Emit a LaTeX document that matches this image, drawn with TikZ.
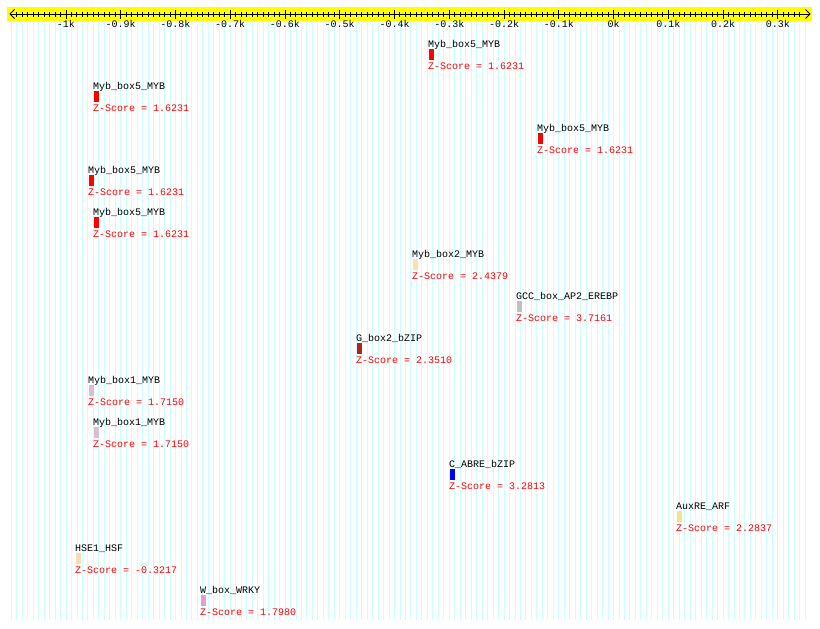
\documentclass[tikz,border=0pt]{standalone}
\usepackage{fontspec}
\setmonofont{Liberation Mono}
\definecolor{gridcyan}{RGB}{205,255,255}
\definecolor{axyellow}{RGB}{255,255,0}
\definecolor{cmyb}{RGB}{255,0,0}
\definecolor{cmoccasin}{RGB}{255,222,173}
\definecolor{csilver}{RGB}{192,192,192}
\definecolor{cbrown}{RGB}{178,34,34}
\definecolor{cthistle}{RGB}{216,191,216}
\definecolor{cblue}{RGB}{0,0,255}
\definecolor{ckhaki}{RGB}{240,230,140}
\definecolor{cwheat}{RGB}{245,222,179}
\definecolor{cplum}{RGB}{221,160,221}
\tikzset{
  gridline/.style={draw=gridcyan, line width=0.9pt},
  axisline/.style={draw=black, line width=1pt},
  axlabel/.style={font=\ttfamily\fontsize{10}{10}\selectfont, inner sep=0pt, anchor=base},
  namelabel/.style={font=\ttfamily\fontsize{10}{10}\selectfont, inner sep=0pt, anchor=base west, text=black},
  scorelabel/.style={font=\ttfamily\fontsize{10}{10}\selectfont, inner sep=0pt, anchor=base west, text=red},
}
\begin{document}
\begin{tikzpicture}[x=1pt,y=-1pt]
\useasboundingbox (0,0) rectangle (820,629);
\fill[white] (0,0) rectangle (820,629);
% vertical grid lines
\foreach \i in {0,...,145} {
  \draw[gridline] ({11.25+5.475*\i},21) -- ({11.25+5.475*\i},620);
}
% axis band
\fill[axyellow] (7,7) rectangle (812,21);
\coordinate (axL) at (10,14);
\coordinate (axR) at (810,14);
\draw[axisline] (axL) -- (axR);
\draw[axisline] (14.5,9.5) -- (axL) -- (14.5,18.5);
\draw[axisline] (805.5,9.5) -- (axR) -- (805.5,18.5);
% minor ticks
\foreach \i in {1,...,144} {
  \draw[axisline] ({11.25+5.475*\i},11.5) -- ({11.25+5.475*\i},16.5);
}
% major ticks and labels
\foreach \j/\lab in {1/-1k,2/-0.9k,3/-0.8k,4/-0.7k,5/-0.6k,6/-0.5k,7/-0.4k,8/-0.3k,9/-0.2k,10/-0.1k,11/0k,12/0.1k,13/0.2k,14/0.3k} {
  \draw[axisline] ({11.25+54.75*\j},9.5) -- ({11.25+54.75*\j},18.5);
  \node[axlabel] (t\j) at ({11.25+54.75*\j},27.5) {\lab};
}
% features
\foreach \r/\x/\nm/\col/\sc in {
  1/428/Myb\_box5\_MYB/cmyb/1.6231,
  2/93/Myb\_box5\_MYB/cmyb/1.6231,
  3/537/Myb\_box5\_MYB/cmyb/1.6231,
  4/88/Myb\_box5\_MYB/cmyb/1.6231,
  5/93/Myb\_box5\_MYB/cmyb/1.6231,
  6/412/Myb\_box2\_MYB/cmoccasin/2.4379,
  7/516/GCC\_box\_AP2\_EREBP/csilver/3.7161,
  8/356/G\_box2\_bZIP/cbrown/2.3510,
  9/88/Myb\_box1\_MYB/cthistle/1.7150,
  10/93/Myb\_box1\_MYB/cthistle/1.7150,
  11/449/C\_ABRE\_bZIP/cblue/3.2813,
  12/676/AuxRE\_ARF/ckhaki/2.2837,
  13/75/HSE1\_HSF/cwheat/-0.3217,
  14/200/W\_box\_WRKY/cplum/1.7980} {
  \node[namelabel] (n\r) at (\x,{47+42*(\r-1)}) {\nm};
  \fill[\col] ({\x+0.5},{49+42*(\r-1)}) rectangle ++(5,10.5);
  \node[scorelabel] (s\r) at (\x,{69.5+42*(\r-1)}) {Z-Score = \sc};
}
\end{tikzpicture}
\end{document}
